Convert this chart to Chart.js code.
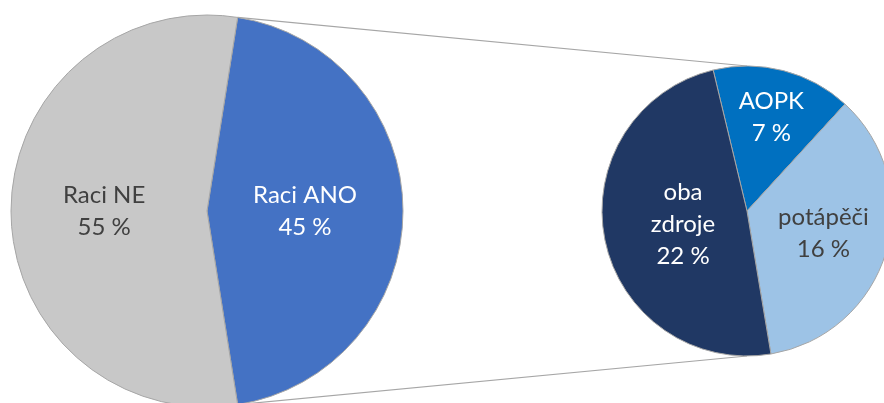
<!DOCTYPE html>
<html lang="cs">
<head>
<meta charset="utf-8">
<script src="https://cdn.jsdelivr.net/npm/chart.js@4"></script>
<style>
  html, body { margin: 0; padding: 0; background: #fff; overflow: hidden; }
  #wrap { position: relative; width: 884px; height: 403px; }
  #wrap canvas { position: absolute; left: 0; top: 0; }
</style>
</head>
<body>
<div id="wrap">
  <canvas id="hlavni" width="884" height="403"></canvas>
  <canvas id="detail" width="884" height="403"></canvas>
</div>
<script>
// hlavní koláč
const kategorieHlavni = ["Raci ANO", "Raci NE"];
const hodnotyHlavni = [45, 55];
const barvyHlavni = ["#4472C4", "#C8C8C8"];
const textHlavni = ["#ffffff", "#404040"];
const polohaHlavni = [0.5, 0.525];

// rozpad "Raci ANO"
const kategorieDetail = [["AOPK"], ["potápěči"], ["oba", "zdroje"]];
const hodnotyDetail = [7, 16, 22];
const barvyDetail = ["#0070C0", "#9DC3E6", "#203864"];
const textDetail = ["#ffffff", "#404040", "#ffffff"];
const polohaDetail = [0.67, 0.55, 0.45];

const FONT = "24px Lato, 'Open Sans', sans-serif";
const RADEK = 32;

const popisky = {
  id: "popisky",
  afterDatasetsDraw(chart, args, opts) {
    const ctx = chart.ctx;
    const meta = chart.getDatasetMeta(0);
    const hodnoty = chart.data.datasets[0].data;
    ctx.save();
    ctx.font = FONT;
    ctx.textAlign = "center";
    ctx.textBaseline = "middle";
    meta.data.forEach((arc, i) => {
      const p = arc.getProps(["x", "y", "startAngle", "endAngle", "outerRadius"], true);
      const uhel = (p.startAngle + p.endAngle) / 2;
      const r = p.outerRadius * opts.poloha[i];
      const cx = p.x + Math.cos(uhel) * r;
      const cy = p.y + Math.sin(uhel) * r;
      let radky = chart.data.labels[i];
      radky = Array.isArray(radky) ? radky.slice() : [radky];
      radky.push(hodnoty[i] + " %");
      const y0 = cy - (radky.length - 1) * RADEK / 2;
      ctx.fillStyle = opts.barvy[i];
      radky.forEach((t, j) => ctx.fillText(t, cx, y0 + j * RADEK));
    });
    ctx.restore();
  }
};

const zakladniVolby = {
  responsive: false,
  animation: false,
  events: [],
  plugins: { legend: { display: false }, tooltip: { enabled: false } }
};

const grafHlavni = new Chart(document.getElementById("hlavni"), {
  type: "pie",
  data: {
    labels: kategorieHlavni,
    datasets: [{
      data: hodnotyHlavni,
      backgroundColor: barvyHlavni,
      borderColor: "#a6a6a6",
      borderWidth: 1,
      clip: false
    }]
  },
  options: {
    ...zakladniVolby,
    rotation: 9,
    radius: 196,
    layout: { padding: { left: 0, right: 470, top: 19, bottom: 0 } },
    plugins: { ...zakladniVolby.plugins, popisky: { barvy: textHlavni, poloha: polohaHlavni } }
  },
  plugins: [popisky]
});

// spojnice mezi koláči
const spojnice = {
  id: "spojnice",
  beforeDatasetsDraw(chart) {
    const arc = grafHlavni.getDatasetMeta(0).data[0];
    const a = arc.getProps(["x", "y", "startAngle", "endAngle", "outerRadius"], true);
    const b = chart.getDatasetMeta(0).data[0].getProps(["x", "y", "outerRadius"], true);
    const ctx = chart.ctx;
    ctx.save();
    ctx.strokeStyle = "#a6a6a6";
    ctx.lineWidth = 1.2;
    ctx.beginPath();
    ctx.moveTo(a.x + Math.cos(a.startAngle) * a.outerRadius, a.y + Math.sin(a.startAngle) * a.outerRadius);
    ctx.lineTo(b.x, b.y - b.outerRadius);
    ctx.moveTo(a.x + Math.cos(a.endAngle) * a.outerRadius, a.y + Math.sin(a.endAngle) * a.outerRadius);
    ctx.lineTo(b.x, b.y + b.outerRadius);
    ctx.stroke();
    ctx.restore();
  }
};

new Chart(document.getElementById("detail"), {
  type: "pie",
  data: {
    labels: kategorieDetail,
    datasets: [{
      data: hodnotyDetail,
      backgroundColor: barvyDetail,
      borderColor: "#a6a6a6",
      borderWidth: 1,
      clip: false
    }]
  },
  options: {
    ...zakladniVolby,
    rotation: -13.5,
    radius: 145,
    layout: { padding: { left: 610, right: 0, top: 19, bottom: 0 } },
    plugins: { ...zakladniVolby.plugins, popisky: { barvy: textDetail, poloha: polohaDetail } }
  },
  plugins: [spojnice, popisky]
});
</script>
</body>
</html>
